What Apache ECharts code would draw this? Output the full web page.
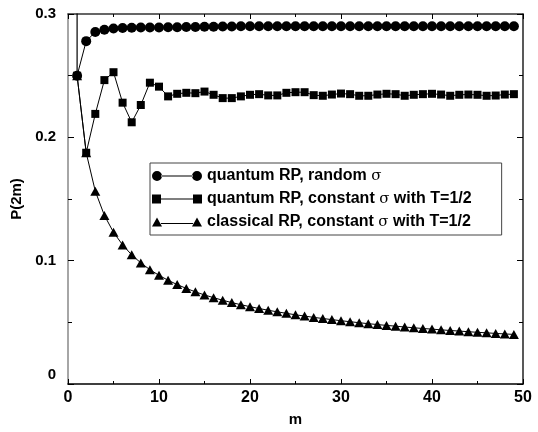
<!DOCTYPE html>
<html lang="en">
<head>
    <meta charset="UTF-8">
    <title>P(2m)</title>
    <script src="https://cdn.jsdelivr.net/npm/echarts@6/dist/echarts.min.js"></script>
    <style>
        html, body { margin: 0; padding: 0; background: #fff; }
        #chart { width: 538px; height: 432px; }
    </style>
</head>
<body>
<div id="chart"></div>
<script type="text/javascript">
    // m = 1..49
    var steps = [];
    for (var i = 1; i <= 49; i++) steps.push(i);

    // quantum RP, random sigma (circles)
    var randomSigma = [0.25, 0.278, 0.2854, 0.2873, 0.2883, 0.2887, 0.2889, 0.289, 0.289, 0.289,
        0.2892, 0.2893, 0.2894, 0.2895, 0.2896, 0.2897, 0.2898, 0.2899, 0.29, 0.29,
        0.29, 0.29, 0.29, 0.29, 0.29, 0.29, 0.29, 0.29, 0.29, 0.29,
        0.29, 0.29, 0.29, 0.29, 0.29, 0.29, 0.29, 0.29, 0.29, 0.29,
        0.29, 0.29, 0.29, 0.29, 0.29, 0.29, 0.29, 0.29, 0.29];

    // quantum RP, constant sigma, T=1/2 (squares)
    var constSigma = [0.25, 0.1875, 0.219, 0.2464, 0.2528, 0.2281, 0.2122, 0.2262, 0.2443, 0.2411,
        0.2332, 0.2353, 0.2361, 0.2358, 0.2371, 0.2345, 0.2318, 0.2318, 0.2332, 0.2345,
        0.235, 0.234, 0.234, 0.2361, 0.2366, 0.2366, 0.2342, 0.2337, 0.2347, 0.2355,
        0.235, 0.2337, 0.2337, 0.2347, 0.2353, 0.235, 0.2337, 0.2345, 0.235, 0.2353,
        0.2347, 0.2337, 0.2345, 0.2347, 0.2345, 0.2337, 0.2339, 0.2347, 0.235];

    // classical RP, constant sigma, T=1/2 (triangles)
    var classical = [0.25, 0.1875, 0.1563, 0.1367, 0.123, 0.1128, 0.1047, 0.0982, 0.0927, 0.0881,
        0.0841, 0.0806, 0.0775, 0.0747, 0.0722, 0.07, 0.0679, 0.066, 0.0643, 0.0627,
        0.0612, 0.0598, 0.0585, 0.0573, 0.0561, 0.0551, 0.054, 0.0531, 0.0522, 0.0513,
        0.0505, 0.0497, 0.0489, 0.0482, 0.0475, 0.0469, 0.0462, 0.0456, 0.045, 0.0445,
        0.0439, 0.0434, 0.0429, 0.0424, 0.0419, 0.0415, 0.041, 0.0406, 0.0402];

    // the steep segment entering at m=1 from above the frame
    var leadX = [1, 1];
    var leadY = [0.25, 0.5];

    var names = ['quantum RP, random σ', 'quantum RP, constant σ with T=1/2', 'classical RP, constant σ with T=1/2'];
    var xTicks = { min: 0, max: 50, interval: 10 };
    var yTicks = { min: 0, max: 0.3, interval: 0.1 };

    function pairs(xs, ys) {
        var out = [];
        for (var k = 0; k < ys.length; k++) out.push([xs[k], ys[k]]);
        return out;
    }

    var font = '"Liberation Sans", Arial, Helvetica, sans-serif';
    var iconCircle = 'path://M0,5a5,5 0 1,0 10,0a5,5 0 1,0 -10,0ZM9,4.5H41V5.5H9ZM40,5a5,5 0 1,0 10,0a5,5 0 1,0 -10,0Z';
    var iconSquare = 'path://M0,0.5H9V9.5H0ZM9,4.5H41V5.5H9ZM41,0.5H50V9.5H41Z';
    var iconTri = 'path://M0,9.5L5,0.5L10,9.5ZM9,6H41V7H9ZM40,9.5L45,0.5L50,9.5Z';

    var myChart = echarts.init(document.getElementById('chart'));
    var axisTick = function (len) {
        return { show: true, inside: true, length: len, lineStyle: { color: '#000', width: 1 } };
    };
    var option = {
        animation: false,
        backgroundColor: '#fff',
        grid: { left: 68, right: 15, top: 14, bottom: 41 },
        legend: {
            orient: 'vertical',
            left: 150,
            top: 163,
            width: 355,
            padding: [5, 30, 5, 2],
            itemGap: 7,
            itemWidth: 50,
            itemHeight: 10,
            borderColor: '#444',
            borderWidth: 1,
            backgroundColor: '#fff',
            data: [
                { name: names[0], icon: iconCircle },
                { name: names[1], icon: iconSquare },
                { name: names[2], icon: iconTri }
            ],
            formatter: function (name) {
                return name.replace('σ', '{s|σ}');
            },
            textStyle: {
                fontFamily: font,
                fontWeight: 'bold',
                fontSize: 16,
                color: '#000',
                rich: {
                    s: { fontFamily: '"DejaVu Serif", serif', fontWeight: 'normal', fontSize: 15, color: '#000' }
                }
            }
        },
        xAxis: [
            {
                type: 'value',
                min: xTicks.min, max: xTicks.max, interval: xTicks.interval,
                name: 'm',
                nameLocation: 'middle',
                nameGap: 28,
                nameTextStyle: { fontFamily: font, fontWeight: 'bold', fontSize: 15, color: '#000' },
                axisLine: { show: true, onZero: false, lineStyle: { color: '#000', width: 1.5 } },
                axisTick: axisTick(5),
                minorTick: { show: true, splitNumber: 2, length: 3, lineStyle: { color: '#000' } },
                axisLabel: { margin: 6, fontFamily: font, fontWeight: 'bold', fontSize: 16, color: '#000' },
                splitLine: { show: false }
            },
            {
                type: 'value',
                position: 'top',
                min: xTicks.min, max: xTicks.max, interval: xTicks.interval,
                axisLine: { show: true, onZero: false, lineStyle: { color: '#333', width: 1.5 } },
                axisTick: axisTick(5),
                minorTick: { show: true, splitNumber: 2, length: 3, lineStyle: { color: '#000' } },
                axisLabel: { show: false },
                splitLine: { show: false }
            }
        ],
        yAxis: [
            {
                type: 'value',
                min: yTicks.min, max: yTicks.max, interval: yTicks.interval,
                name: 'P(2m)',
                nameLocation: 'middle',
                nameGap: 43,
                nameTextStyle: { fontFamily: font, fontWeight: 'bold', fontSize: 15, color: '#000' },
                axisLine: { show: true, onZero: false, lineStyle: { color: '#888', width: 1.5 } },
                axisTick: axisTick(6),
                minorTick: { show: true, splitNumber: 2, length: 4, lineStyle: { color: '#000' } },
                axisLabel: {
                    margin: 12, fontFamily: font, fontWeight: 'bold', fontSize: 15, color: '#000',
                    formatter: function (v) {
                        return v === 0 ? '{z|0}' : String(v);
                    },
                    rich: {
                        z: { fontFamily: font, fontWeight: 'bold', fontSize: 15, color: '#000', padding: [0, 0, 18, 0] }
                    }
                },
                splitLine: { show: false }
            },
            {
                type: 'value',
                position: 'right',
                min: yTicks.min, max: yTicks.max, interval: yTicks.interval,
                axisLine: { show: true, onZero: false, lineStyle: { color: '#222', width: 1.5 } },
                axisTick: axisTick(6),
                minorTick: { show: true, splitNumber: 2, length: 4, lineStyle: { color: '#000' } },
                axisLabel: { show: false },
                splitLine: { show: false }
            }
        ],
        series: [
            {
                name: 'lead',
                type: 'line',
                data: pairs(leadX, leadY),
                showSymbol: false,
                silent: true,
                clip: true,
                lineStyle: { color: '#000', width: 1.2 },
                z: 1
            },
            {
                name: names[2],
                type: 'line',
                data: pairs(steps, classical),
                symbol: 'triangle',
                symbolSize: [10, 9],
                itemStyle: { color: '#000' },
                lineStyle: { color: '#000', width: 1 },
                z: 2
            },
            {
                name: names[1],
                type: 'line',
                data: pairs(steps, constSigma),
                symbol: 'rect',
                symbolSize: 8,
                itemStyle: { color: '#000' },
                lineStyle: { color: '#000', width: 1 },
                z: 3
            },
            {
                name: names[0],
                type: 'line',
                data: pairs(steps, randomSigma),
                symbol: 'circle',
                symbolSize: 10,
                itemStyle: { color: '#000' },
                lineStyle: { color: '#000', width: 1 },
                z: 4
            }
        ]
    };
    myChart.setOption(option);
</script>
</body>
</html>
